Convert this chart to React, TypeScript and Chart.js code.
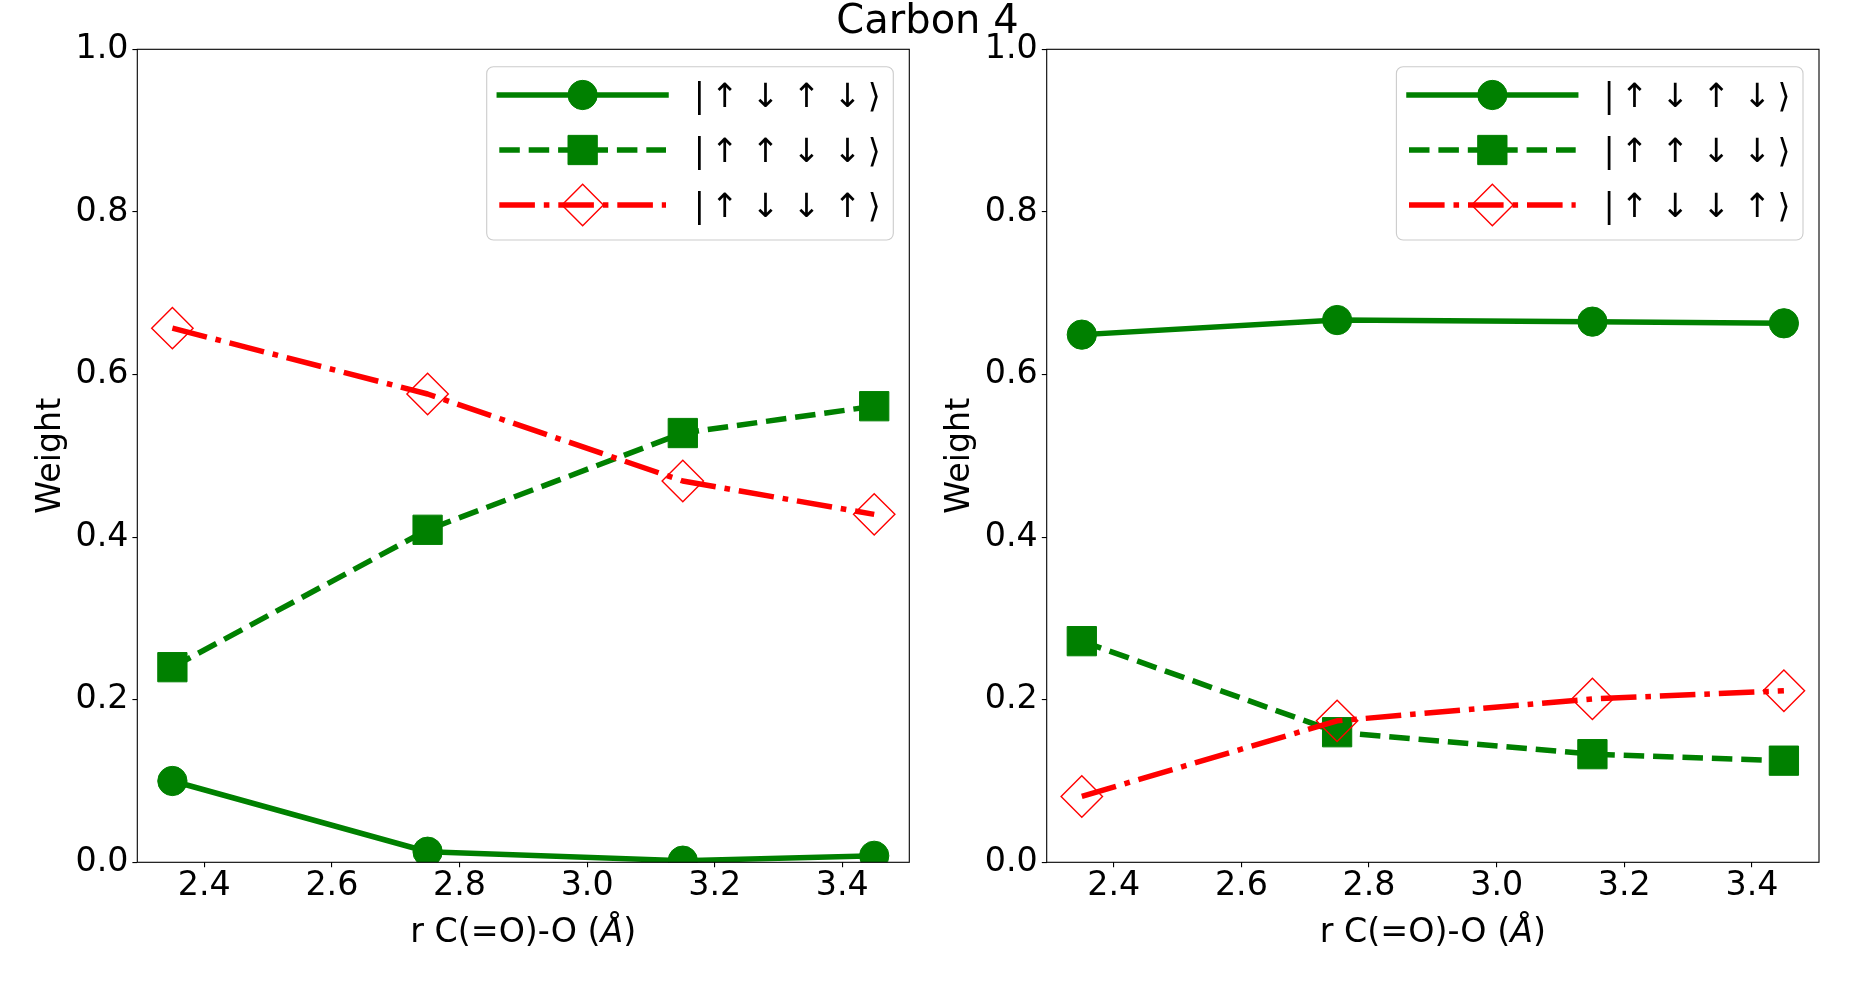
import React, { useEffect, useRef } from "react";
import { Chart, registerables } from "chart.js";

Chart.register(...registerables);

// ---------- data ----------
const figureTitle = "Carbon 4";
const xAxisTitleParts = ["r C(=O)-O (", "Å", ")"];
const yAxisTitle = "Weight";

const xValues = [2.35, 2.75, 3.15, 3.45];
const xTicks = [2.4, 2.6, 2.8, 3.0, 3.2, 3.4];
const yTicks = [0.0, 0.2, 0.4, 0.6, 0.8, 1.0];

const legendKets = ["|↑↓↑↓⟩", "|↑↑↓↓⟩", "|↑↓↓↑⟩"];

const leftCircle = [0.1, 0.013, 0.002, 0.008];
const leftSquare = [0.24, 0.409, 0.528, 0.561];
const leftDiamond = [0.657, 0.576, 0.469, 0.428];

const rightCircle = [0.649, 0.667, 0.665, 0.663];
const rightSquare = [0.272, 0.16, 0.133, 0.125];
const rightDiamond = [0.081, 0.174, 0.201, 0.211];

// ---------- styles ----------
const FONT = '"DejaVu Sans", "Noto Sans", sans-serif';
const LW = 5.5;
const seriesStyles = [
  { color: "#008000", dash: [] as number[], cap: "square", pointStyle: "circle", radius: 14.65, fill: "#008000", bw: 1, order: 2 },
  { color: "#008000", dash: [20.5, 8.9], cap: "butt", pointStyle: "rect", radius: 20.7, fill: "#008000", bw: 1, order: 1 },
  { color: "#ff0000", dash: [35.6, 8.9, 5.6, 8.9], cap: "butt", pointStyle: "rectRot", radius: 20.7, fill: "rgba(0,0,0,0)", bw: 1.4, order: 0 },
];

function drawMarker(ctx: CanvasRenderingContext2D, s: any, x: number, y: number) {
  ctx.save();
  ctx.setLineDash([]);
  ctx.beginPath();
  if (s.pointStyle === "circle") {
    ctx.arc(x, y, s.radius, 0, Math.PI * 2);
  } else if (s.pointStyle === "rect") {
    const h = s.radius * Math.SQRT1_2;
    ctx.rect(x - h, y - h, 2 * h, 2 * h);
  } else {
    const r = s.radius;
    ctx.moveTo(x - r, y);
    ctx.lineTo(x, y - r);
    ctx.lineTo(x + r, y);
    ctx.lineTo(x, y + r);
    ctx.closePath();
  }
  ctx.fillStyle = s.fill;
  ctx.fill();
  ctx.lineWidth = s.bw;
  ctx.strokeStyle = s.color;
  ctx.stroke();
  ctx.restore();
}

const framePlugin = {
  id: "frame",
  afterDatasetsDraw(chart: any) {
    const { ctx, chartArea: a } = chart;
    ctx.save();
    ctx.strokeStyle = "#000";
    ctx.lineWidth = 1.1;
    ctx.strokeRect(a.left, a.top, a.right - a.left, a.bottom - a.top);
    ctx.restore();
  },
};

// x-axis title with the Angstrom sign in italics (as in the original mathtext)
const xTitlePlugin = {
  id: "xTitle",
  afterDraw(chart: any) {
    const { ctx, chartArea: a } = chart;
    const normal = `33.3px ${FONT}`;
    const italic = `oblique 33.3px ${FONT}`;
    const fonts = [normal, italic, normal];
    ctx.save();
    ctx.fillStyle = "#000";
    ctx.textBaseline = "alphabetic";
    ctx.textAlign = "left";
    const widths = xAxisTitleParts.map((t, i) => {
      ctx.font = fonts[i];
      return ctx.measureText(t).width;
    });
    const total = widths.reduce((p, c) => p + c, 0);
    let x = (a.left + a.right) / 2 - total / 2;
    const y = a.bottom + 79.4;
    xAxisTitleParts.forEach((t, i) => {
      ctx.font = fonts[i];
      ctx.fillText(t, x, y);
      x += widths[i];
    });
    ctx.restore();
  },
};

const glyphX = [212.6, 238.3, 279, 320, 361, 387.6];

const legendPlugin = {
  id: "ketLegend",
  afterDraw(chart: any) {
    const { ctx, chartArea: a } = chart;
    const W = 406.6;
    const H = 173.3;
    const bx = a.right - 16 - W;
    const by = a.top + 17.4;
    ctx.save();
    ctx.beginPath();
    (ctx as any).roundRect(bx, by, W, H, 6.7);
    ctx.fillStyle = "rgba(255,255,255,0.8)";
    ctx.fill();
    ctx.strokeStyle = "#cccccc";
    ctx.lineWidth = 1.1;
    ctx.stroke();
    seriesStyles.forEach((s, i) => {
      const cy = by + 28.3 + i * 55;
      const x0 = bx + 12.6;
      const x1 = x0 + 166.7;
      ctx.beginPath();
      ctx.setLineDash(s.dash);
      ctx.lineCap = s.cap as CanvasLineCap;
      ctx.lineWidth = LW;
      ctx.strokeStyle = s.color;
      ctx.moveTo(x0, cy);
      ctx.lineTo(x1, cy);
      ctx.stroke();
      ctx.setLineDash([]);
      drawMarker(ctx, s, (x0 + x1) / 2, cy);
      ctx.font = `33.3px ${FONT}`;
      ctx.fillStyle = "#000";
      ctx.textAlign = "center";
      ctx.textBaseline = "alphabetic";
      Array.from(legendKets[i]).forEach((c, j) => {
        ctx.fillText(c, bx + glyphX[j], cy + 12.3);
      });
    });
    ctx.restore();
  },
};

function makeConfig(series: number[][], yAxisWidth: number, rightPad: number, yTitlePad: number): any {
  return {
    type: "line",
    data: {
      datasets: series.map((vals, i) => {
        const s = seriesStyles[i];
        return {
          data: xValues.map((x, k) => ({ x, y: vals[k] })),
          borderColor: s.color,
          borderWidth: LW,
          borderDash: s.dash,
          borderCapStyle: s.cap,
          borderJoinStyle: "round",
          pointStyle: s.pointStyle,
          pointRadius: s.radius,
          pointBackgroundColor: s.fill,
          pointBorderColor: s.color,
          pointBorderWidth: s.bw,
          fill: false,
          tension: 0,
          clip: 0,
          order: s.order,
        };
      }),
    },
    options: {
      animation: false,
      responsive: false,
      events: [],
      layout: { padding: { left: 0, top: 49.3, right: rightPad, bottom: 0 } },
      plugins: { legend: { display: false }, tooltip: { enabled: false }, title: { display: false } },
      scales: {
        x: {
          type: "linear",
          min: 2.295,
          max: 3.505,
          afterBuildTicks: (scale: any) => {
            scale.ticks = xTicks.map((value) => ({ value }));
          },
          afterFit: (scale: any) => {
            scale.height = 123.7;
          },
          grid: { drawOnChartArea: false, drawTicks: true, tickLength: 4.9, color: "#000", lineWidth: 1.1 },
          border: { display: false },
          ticks: {
            color: "#000",
            font: { family: FONT, size: 33.3, lineHeight: 1 },
            padding: 3,
            maxRotation: 0,
            autoSkip: false,
            callback: (v: any) => Number(v).toFixed(1),
          },
          title: { display: false },
        },
        y: {
          type: "linear",
          min: 0,
          max: 1,
          afterBuildTicks: (scale: any) => {
            scale.ticks = yTicks.map((value) => ({ value }));
          },
          afterFit: (scale: any) => {
            scale.width = yAxisWidth;
          },
          grid: { drawOnChartArea: false, drawTicks: true, tickLength: 4.9, color: "#000", lineWidth: 1.1 },
          border: { display: false },
          ticks: {
            color: "#000",
            font: { family: FONT, size: 33.3, lineHeight: 1 },
            padding: 4,
            autoSkip: false,
            callback: (v: any) => Number(v).toFixed(1),
          },
          title: {
            display: true,
            text: yAxisTitle,
            color: "#000",
            font: { family: FONT, size: 33.3, lineHeight: 1 },
            padding: { top: yTitlePad, bottom: 0 },
          },
        },
      },
    },
    plugins: [framePlugin, legendPlugin, xTitlePlugin],
  };
}

export default function App() {
  const leftRef = useRef<HTMLCanvasElement>(null);
  const rightRef = useRef<HTMLCanvasElement>(null);

  useEffect(() => {
    const c1 = new Chart(leftRef.current as HTMLCanvasElement, makeConfig([leftCircle, leftSquare, leftDiamond], 137.3, 22.7, 34.5));
    const c2 = new Chart(rightRef.current as HTMLCanvasElement, makeConfig([rightCircle, rightSquare, rightDiamond], 119.7, 36, 16.9));
    return () => {
      c1.destroy();
      c2.destroy();
    };
  }, []);

  return (
    <div style={{ position: "absolute", left: 0, top: 0, width: 1855, height: 986, background: "#fff", overflow: "hidden" }}>
      <canvas ref={rightRef} width={928} height={986} style={{ position: "absolute", left: 927, top: 0 }} />
      <canvas ref={leftRef} width={932} height={986} style={{ position: "absolute", left: 0, top: 0 }} />
      <div
        style={{
          position: "absolute",
          left: 0,
          top: -1,
          width: 1855,
          textAlign: "center",
          fontFamily: FONT,
          fontSize: 40,
          lineHeight: "40px",
          color: "#000",
          pointerEvents: "none",
        }}
      >
        {figureTitle}
      </div>
    </div>
  );
}
